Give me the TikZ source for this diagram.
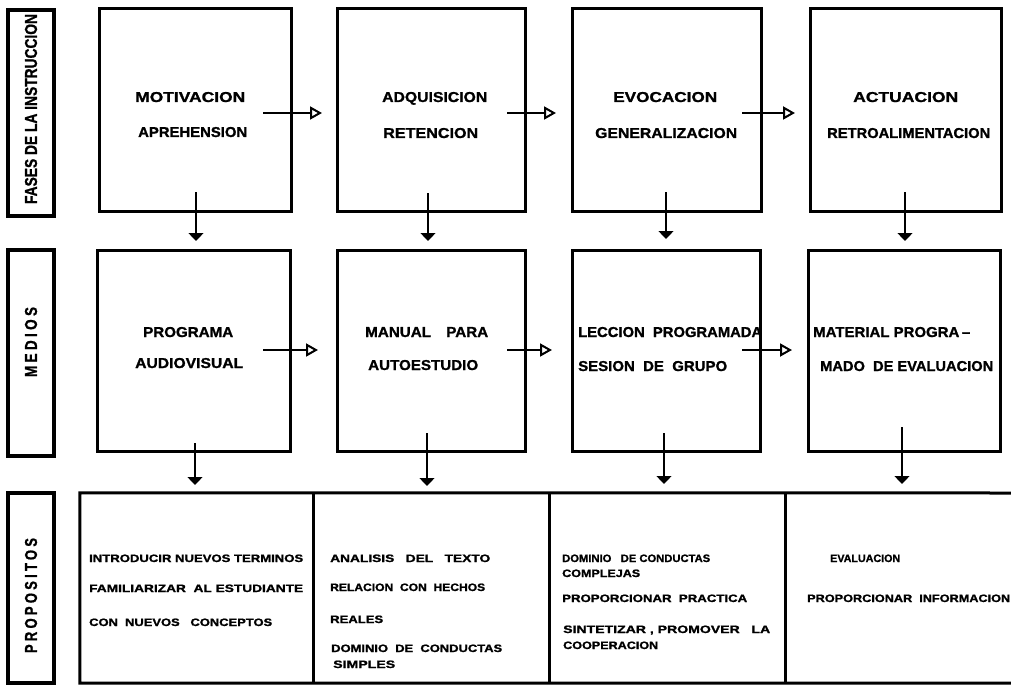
\documentclass[tikz,border=0pt]{standalone}
\usepackage{fontspec}
\setmainfont{Liberation Sans}[BoldFeatures={FakeBold=1.2}]
\newfontfamily\spacedfont{Liberation Sans}[LetterSpace=25,BoldFeatures={FakeBold=1.2}]
\usepackage{graphicx}
\usetikzlibrary{arrows.meta}
\newcommand{\fitt}[3]{\resizebox{#1pt}{#2pt}{\bfseries #3}}
\newcommand{\fits}[3]{\resizebox{#1pt}{#2pt}{\spacedfont\bfseries #3}}
\tikzset{
  box/.style={draw, line width=3pt, inner sep=0pt},
  lblbox/.style={draw, line width=3.5pt, inner sep=0pt, minimum width=46pt},
  tl/.style={anchor=base west, inner sep=0pt},
  harr/.style={line width=1.3pt, -{Triangle[open, length=12pt, width=13pt, line width=2pt]}},
  varr/.style={line width=1.3pt, -{Triangle[length=8pt, width=15pt]}},
  frame/.style={line width=3pt}
}
\begin{document}
\begin{tikzpicture}[x=1pt,y=-1pt]
\useasboundingbox (0,0) rectangle (1011,687);

% left label boxes
\node[lblbox, minimum height=206pt] (L1) at (31,113) {};
\node[lblbox, minimum height=206pt] (L2) at (31,353) {};
\node[lblbox, minimum height=190pt] (L3) at (31,588) {};
\node[rotate=90, inner sep=0pt] (L1t) at (31,109) {\fitt{190}{12}{FASES DE LA INSTRUCCION}};
\node[rotate=90, inner sep=0pt] (L2t) at (31,342) {\fits{70}{12}{MEDIOS}};
\node[rotate=90, inner sep=0pt] (L3t) at (31,595.5) {\fits{115}{12}{PROPOSITOS}};

% top row boxes
\node[box, minimum width=192pt, minimum height=202pt] (f1) at (195,110) {};
\node[box, minimum width=188pt, minimum height=202pt] (f2) at (431,110) {};
\node[box, minimum width=189pt, minimum height=202pt] (f3) at (666.5,110) {};
\node[box, minimum width=191pt, minimum height=202pt] (f4) at (905.5,110) {};

% middle row boxes
\node[box, minimum width=193pt, minimum height=201pt] (m1) at (193.5,350.5) {};
\node[box, minimum width=188pt, minimum height=201pt] (m2) at (431,350.5) {};
\node[box, minimum width=188pt, minimum height=201pt] (m3) at (666,350.5) {};
\node[box, minimum width=192pt, minimum height=201pt] (m4) at (904,350.5) {};

% bottom row cells
\node[inner sep=0pt, minimum width=233pt, minimum height=190pt] (p1) at (196.5,588) {};
\node[inner sep=0pt, minimum width=236pt, minimum height=190pt] (p2) at (431,588) {};
\node[inner sep=0pt, minimum width=236pt, minimum height=190pt] (p3) at (667,588) {};
\node[inner sep=0pt, minimum width=226pt, minimum height=190pt] (p4) at (898,588) {};
\draw[frame] (1012,493) -- (p1.north west) -- (p1.south west) -- (1012,683);
\draw[frame] (p1.north east) -- (p1.south east);
\draw[frame] (p2.north east) -- (p2.south east);
\draw[frame] (p3.north east) -- (p3.south east);

% top row texts
\node[tl] (t1a) at (135,102) {\fitt{110}{10}{MOTIVACION}};
\node[tl] (t1b) at (138,137) {\fitt{109}{10}{APREHENSION}};
\node[tl] (t2a) at (382,102) {\fitt{105}{10}{ADQUISICION}};
\node[tl] (t2b) at (383,138) {\fitt{95}{10}{RETENCION}};
\node[tl] (t3a) at (613,102) {\fitt{104}{10}{EVOCACION}};
\node[tl] (t3b) at (595,138) {\fitt{142}{10}{GENERALIZACION}};
\node[tl] (t4a) at (853,102) {\fitt{105}{10}{ACTUACION}};
\node[tl] (t4b) at (827,138) {\fitt{163}{10}{RETROALIMENTACION}};

% middle row texts
\node[tl] (u1a) at (143,337) {\fitt{90}{10}{PROGRAMA}};
\node[tl] (u1b) at (135,368) {\fitt{108}{10}{AUDIOVISUAL}};
\node[tl] (u2a) at (365,337) {\fitt{123}{10}{MANUAL\quad PARA}};
\node[tl] (u2b) at (368,370) {\fitt{110}{10}{AUTOESTUDIO}};
\node[tl] (u3a) at (578,337) {\fitt{184}{10}{LECCION\ \ PROGRAMADA}};
\node[tl] (u3b) at (578,371) {\fitt{149}{10}{SESION\ \ DE\ \ GRUPO}};
\node[tl] (u4a) at (813,337) {\fitt{157}{10}{MATERIAL PROGRA\,--}};
\node[tl] (u4b) at (820,371) {\fitt{173}{10}{MADO\ \ DE EVALUACION}};

% bottom texts
\node[tl] (v1a) at (89,562) {\fitt{214}{7.5}{INTRODUCIR NUEVOS TERMINOS}};
\node[tl] (v1b) at (89,592) {\fitt{214}{7.5}{FAMILIARIZAR\ \ AL ESTUDIANTE}};
\node[tl] (v1c) at (89,626) {\fitt{183}{7.5}{CON\ \ NUEVOS\ \ \ CONCEPTOS}};
\node[tl] (v2a) at (330,562) {\fitt{160}{7.5}{ANALISIS\ \ \ DEL\ \ \ TEXTO}};
\node[tl] (v2b) at (330,591) {\fitt{155}{7.5}{RELACION\ \ CON\ \ HECHOS}};
\node[tl] (v2c) at (330,623) {\fitt{53}{7.5}{REALES}};
\node[tl] (v2d) at (331,652) {\fitt{171}{7.5}{DOMINIO\ \ DE\ \ CONDUCTAS}};
\node[tl] (v2e) at (333,668) {\fitt{62}{7.5}{SIMPLES}};
\node[tl] (v3a) at (562,562) {\fitt{148}{7.5}{DOMINIO\ \ \ DE CONDUCTAS}};
\node[tl] (v3b) at (562,577) {\fitt{78}{7.5}{COMPLEJAS}};
\node[tl] (v3c) at (562,602) {\fitt{185}{7.5}{PROPORCIONAR\ \ PRACTICA}};
\node[tl] (v3d) at (563,633) {\fitt{207}{7.5}{SINTETIZAR , PROMOVER\ \ \ LA}};
\node[tl] (v3e) at (563,649) {\fitt{95}{7.5}{COOPERACION}};
\node[tl] (v4a) at (830,562) {\fitt{70}{7.5}{EVALUACION}};
\node[tl] (v4b) at (807,602) {\fitt{203}{7.5}{PROPORCIONAR\ \ INFORMACION}};

% coordinates for connectors
\coordinate (h1s) at (263,113); \coordinate (h1e) at (322,113);
\coordinate (h2s) at (507,113); \coordinate (h2e) at (556,113);
\coordinate (h3s) at (742,113); \coordinate (h3e) at (795,113);
\coordinate (k1s) at (263,350); \coordinate (k1e) at (318,350);
\coordinate (k2s) at (507,350); \coordinate (k2e) at (552,350);
\coordinate (k3s) at (742,350); \coordinate (k3e) at (792,350);
\coordinate (d1s) at (196,192); \coordinate (d1e) at (196,241);
\coordinate (d2s) at (428,193); \coordinate (d2e) at (428,241);
\coordinate (d3s) at (666,192); \coordinate (d3e) at (666,239);
\coordinate (d4s) at (905,192); \coordinate (d4e) at (905,241);
\coordinate (e1s) at (195,443); \coordinate (e1e) at (195,485);
\coordinate (e2s) at (427,433); \coordinate (e2e) at (427,486);
\coordinate (e3s) at (664,433); \coordinate (e3e) at (664,484);
\coordinate (e4s) at (902,427); \coordinate (e4e) at (902,484);

\draw[harr] (h1s) -- (h1e);
\draw[harr] (h2s) -- (h2e);
\draw[harr] (h3s) -- (h3e);
\draw[harr] (k1s) -- (k1e);
\draw[harr] (k2s) -- (k2e);
\draw[harr] (k3s) -- (k3e);
\draw[varr] (d1s) -- (d1e);
\draw[varr] (d2s) -- (d2e);
\draw[varr] (d3s) -- (d3e);
\draw[varr] (d4s) -- (d4e);
\draw[varr] (e1s) -- (e1e);
\draw[varr] (e2s) -- (e2e);
\draw[varr] (e3s) -- (e3e);
\draw[varr] (e4s) -- (e4e);
\end{tikzpicture}
\end{document}
